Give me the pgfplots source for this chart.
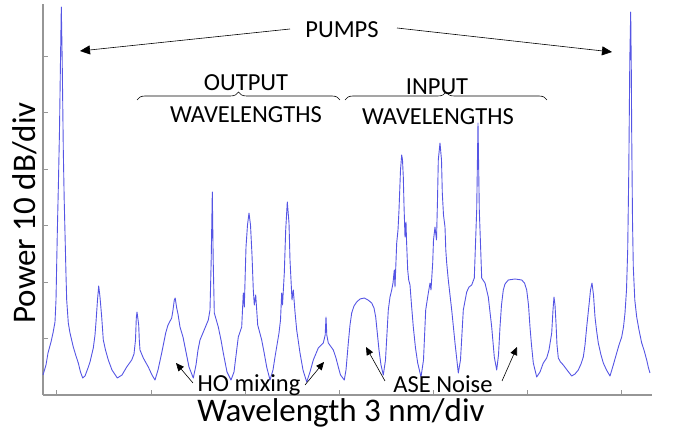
\documentclass[border=0pt]{standalone}
\usepackage{fontspec}
\setmainfont{Carlito}
\usepackage{pgfplots}
\pgfplotsset{compat=1.18}
\usetikzlibrary{decorations.pathreplacing,arrows.meta}
\definecolor{trace}{RGB}{85,85,228}
\definecolor{axgray}{RGB}{150,150,150}
\begin{document}
\begin{tikzpicture}
\useasboundingbox (-43pt,-38pt) rectangle (630pt,395pt);
\begin{axis}[
  at={(0pt,0pt)}, anchor=south west,
  scale only axis, width=609pt, height=391pt,
  xmin=43, xmax=652, ymin=0, ymax=391,
  axis lines*=left,
  axis line style={axgray, line width=1.2pt},
  tick style={axgray, line width=1pt},
  tick align=inside, major tick length=5pt,
  xtick={57,151,245,339,433,527,621},
  ytick={56.4,112.8,169.2,225.6,282,338.4},
  xticklabels={}, yticklabels={},
  clip=false,
  xlabel={Wavelength 3 nm/div},
  ylabel={Power 10 dB/div},
  label style={font=\fontsize{33}{40}\selectfont, inner sep=0pt},
  xlabel style={at={(axis description cs:0.4893,-0.0460)}, anchor=center},
  ylabel style={at={(axis description cs:-0.0296,0.4655)}, anchor=center, rotate=0},
]
\addplot[trace, line width=0.9pt, line join=round] table {
x y
43 20
46 30
48 42
51 53
53 62
55 73
56 95
57.3 162
58.5 215
59.5 265
60.5 335
61.3 388
62.2 335
63.3 245
64.2 195
65 162
66 120
66.7 95
68.3 72
70 62
73.3 48
76 39
78.3 32
80.5 23
82.7 17
85 19
88 27
90 33
93.3 47
95 60
96 73
97.5 95
98.7 109
100 98
101.7 78
103.3 55
105.5 45
108.3 35
112 25
117.3 17
122 20
126.7 28
131.7 35
134 41
135.5 55
136.3 77
137 83
137.8 77
138.7 70
139.3 55
140 45
143.3 37
148.3 28
152 20
155 15
158 25
161.7 42
165.7 62
168 70
171.7 77
173 85
174.3 95
175.2 97
176.7 87
178 81
180 68
183 58
185 48
187 38
189 28
193.3 17
196 30
198 45
200 55
205 67
208.3 75
210 85
211.2 135
212.3 203
213.2 135
214.3 82
218.3 68
221 55
223.3 42
227 23
231 15
234 23
238.3 58
241.7 68
243.3 102
244.3 88
246 148
247.5 170
249 182
250.5 170
252 140
253.3 105
254.3 90
255.7 100
257.7 70
261.7 55
264 43
266.7 28
270 15
273 25
275 38
279 62
280.5 75
281.7 102
282.5 90
284.3 122
285.7 165
287.3 193
289 172
290 135
291 115
292 95
293.3 105
295 83
296.7 65
300 42
303 25
306.7 13
310 23
313.3 35
318.3 47
323.3 52
325.2 60
326 78
326.8 60
328.3 52
333.3 45
336 37
338.3 28
340.5 20
344.3 15
346 25
348.3 52
350 70
351.7 82
354 89
356.7 93
360 96
364.3 97
368 95
371.7 92
374 87
375.7 78
377.5 60
379 45
381 30
383.3 20
385.5 35
388.3 85
390 98
391.7 105
393 112
394.3 125
395 108
396.7 152
398 165
399 185
400.5 225
401.7 240
402.5 235
403.3 218
404 190
405 158
406 173
406.5 155
407.7 125
408.7 115
410 110
411.5 90
413.3 68
415.5 47
417.7 32
421 18
423.5 35
425.7 85
428 100
430 112
431 105
432.7 132
433.5 155
435 168
436.5 155
437.5 195
438.3 235
440 252
441.5 235
442.3 202
443.5 180
445 168
445.8 145
446.7 132
448.3 115
451.7 85
455 52
458.3 22
460.5 35
463.3 85
466.7 103
469 108
471.7 110
474.3 117
476.7 185
478 272
479.3 185
481.7 117
485 112
488.3 98
491.7 68
494.3 38
496.7 25
498.5 40
500 68
501.5 90
503.3 105
505 111
508.3 115
515 116
521.7 115
524.5 112
526.7 105
528.5 90
530 68
531.5 50
533.3 32
536.7 18
540 23
543.3 32
546.7 37
549 45
551.7 62
553 85
554 98
555 90
556 72
557 50
558.3 37
560.5 33
563.3 30
567 25
571.7 19
575 21
578.3 25
581 31
583.3 38
585 50
586.7 68
589 90
590.5 105
592 112
593.5 100
595 78
596.5 65
598.3 52
601 40
603.3 32
606.5 25
610 19
613 29
616.7 42
619 50
621.7 58
623.5 68
625 82
626.5 105
627.7 145
628.8 225
629.8 335
630.7 383
631.3 325
631.7 262
632.5 175
633.3 128
634.8 95
636.7 78
639 65
641.7 52
644 45
646.7 35
648.5 27
650 22
};
% annotations
\begin{scope}[font=\fontsize{24.5}{29}\selectfont]
\node at (axis cs:342,365) {PUMPS};
\draw[-{Triangle[length=10pt,width=9pt]}, line width=0.6pt] (axis cs:290,366) -- (axis cs:80,344);
\draw[-{Triangle[length=10pt,width=9pt]}, line width=0.6pt] (axis cs:397,367) -- (axis cs:612,343);
\draw[decorate, decoration={brace, amplitude=8pt}, line width=0.6pt] (axis cs:137,295) -- (axis cs:340,295);
\draw[decorate, decoration={brace, amplitude=8pt}, line width=0.6pt] (axis cs:345,295) -- (axis cs:547,295);
\node at (axis cs:246,312) {OUTPUT};
\node at (axis cs:246,280) {WAVELENGTHS};
\node at (axis cs:437,308) {INPUT};
\node at (axis cs:438,278) {WAVELENGTHS};
\node[inner sep=0pt] at (axis cs:249,10) {HO mixing};
\node[inner sep=0pt] at (axis cs:443,11) {ASE Noise};
\draw[-{Triangle[length=8pt,width=7pt]}, line width=0.6pt] (axis cs:193,12) -- (axis cs:176,32);
\draw[-{Triangle[length=8pt,width=7pt]}, line width=0.6pt] (axis cs:305,10) -- (axis cs:324,33);
\draw[-{Triangle[length=8pt,width=7pt]}, line width=0.6pt] (axis cs:385,14) -- (axis cs:366,48);
\draw[-{Triangle[length=8pt,width=7pt]}, line width=0.6pt] (axis cs:502,14) -- (axis cs:517,48);
\end{scope}
\end{axis}
\end{tikzpicture}
\end{document}
